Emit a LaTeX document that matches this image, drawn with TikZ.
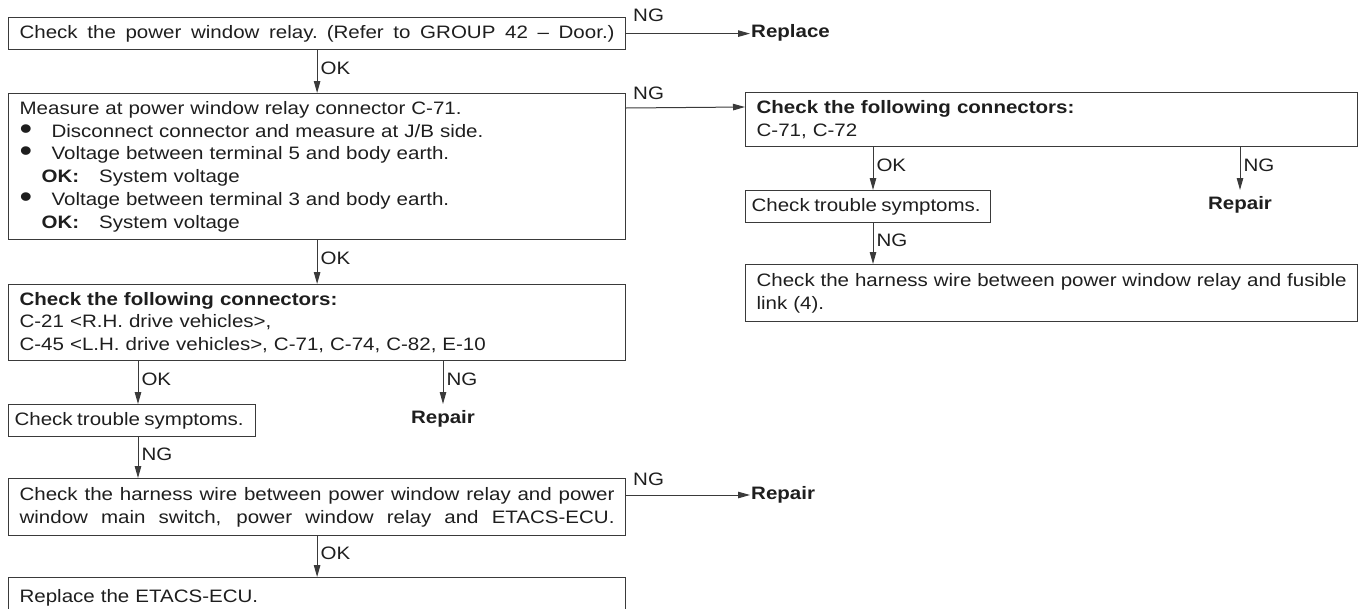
\documentclass[tikz,border=0pt]{standalone}
\usepackage{fontspec}
\setmainfont{Liberation Sans}[FakeStretch=1.14]
\usetikzlibrary{arrows.meta}
\definecolor{ln}{HTML}{3A3A3A}
\definecolor{tx}{HTML}{1E1E1E}
\DeclareRobustCommand{\bodyfont}{\fontsize{18pt}{22.8pt}\selectfont\spaceskip=8.5pt plus 3pt minus 1pt\relax}
\DeclareRobustCommand{\resfont}{\fontsize{18pt}{22.8pt}\selectfont\bfseries}
\DeclareRobustCommand{\tightsp}{\spaceskip=4.5pt\relax}
\DeclareRobustCommand{\bulitem}{\makebox[32pt][l]{\smash{\raisebox{-2pt}{\scalebox{1.75}{\textbullet}}}}}
\DeclareRobustCommand{\jline}[2]{{\spaceskip=0pt\relax\makebox[#1][s]{#2}}}
\begin{document}
\begin{tikzpicture}[x=1pt,y=-1pt,
  every node/.style={font=\bodyfont, text=tx},
  stepbox/.style={draw=ln, line width=1.2pt, anchor=north west, inner xsep=11pt, inner ysep=0pt, align=left},
  arr/.style={draw=ln, line width=1pt, -{Triangle[length=12pt,width=6.5pt]}},
  lbl/.style={inner sep=0pt},
  res/.style={font=\resfont}
]
\useasboundingbox (0,0) rectangle (1365,608);

% left column
\node[stepbox, minimum width=617pt, minimum height=32pt, text width=595pt] (b1) at (8,17)
  {\jline{595pt}{Check the power window relay. (Refer to GROUP 42 – Door.)}};
\node[stepbox, minimum width=617pt, minimum height=146pt, text width=595pt] (b2) at (8,93)
  {Measure at power window relay connector C-71.\\
   \bulitem Disconnect connector and measure at J/B side.\\
   \bulitem Voltage between terminal 5 and body earth.\\
   \hspace*{22pt}\textbf{OK:}\hspace{20pt}System voltage\\
   \bulitem Voltage between terminal 3 and body earth.\\
   \hspace*{22pt}\textbf{OK:}\hspace{20pt}System voltage};
\node[stepbox, minimum width=617pt, minimum height=76pt, text width=595pt] (b3) at (8,284)
  {\textbf{Check the following connectors:}\\
   C-21 <R.H. drive vehicles>,\\
   C-45 <L.H. drive vehicles>, C-71, C-74, C-82, E-10};
\node[stepbox, inner xsep=6pt, minimum width=247pt, minimum height=32pt, text width=235pt] (b4) at (8,404)
  {\tightsp Check trouble symptoms.};
\node[stepbox, minimum width=617pt, minimum height=57pt, text width=595pt] (b5) at (8,478)
  {\jline{595pt}{Check the harness wire between power window relay and power}\\
   \jline{595pt}{window main switch, power window relay and ETACS-ECU.}};
\node[stepbox, minimum width=617pt, minimum height=40pt, text width=595pt] (b6) at (8,577)
  {Replace the ETACS-ECU.};

% right column
\node[stepbox, minimum width=612pt, minimum height=54pt, text width=590pt] (r1) at (745,92)
  {\textbf{Check the following connectors:}\\
   C-71, C-72};
\node[stepbox, inner xsep=6pt, minimum width=245pt, minimum height=32pt, text width=233pt] (r2) at (745,190)
  {\tightsp Check trouble symptoms.};
\node[stepbox, minimum width=612pt, minimum height=57pt, text width=590pt] (r3) at (745,264)
  {\jline{590pt}{Check the harness wire between power window relay and fusible}\\
   link (4).};

% result texts
\node[res, anchor=west, inner sep=1pt] (rep1) at (750,33) {Replace};
\node[res, anchor=west, inner sep=1pt] (rep3) at (750,495) {Repair};
\node[res, anchor=north, inner xsep=1pt, inner ysep=6pt] (rp1) at (443,404) {Repair};
\node[res, anchor=north, inner xsep=1pt, inner ysep=6pt] (rp2) at (1240,190) {Repair};

% horizontal NG connectors
\draw[arr] (b1.east) -- (b1.east -| rep1.west);
\node[lbl, anchor=base west] (ng1) at (633,21) {NG};
\draw[arr] ([yshift=-15pt]b2.north east) -- ([yshift=-15pt]r1.north east -| r1.west);
\node[lbl, anchor=base west] (ng2) at (633,99) {NG};
\draw[arr] (rep3.west -| b5.east) -- (rep3.west);
\node[lbl, anchor=base west] (ng3) at (633,485) {NG};

% vertical connectors, left
\draw[arr] (b1.south) -- node[lbl, right=3pt, pos=0.42] {OK} (b2.north);
\draw[arr] (b2.south) -- node[lbl, right=3pt, pos=0.42] {OK} (b3.north);
\draw[arr] (b3.south -| 138,0) -- node[lbl, right=3pt, pos=0.42] {OK} (b4.north -| 138,0);
\draw[arr] (b3.south -| rp1.north) -- node[lbl, right=3pt, pos=0.42] {NG} (rp1.north);
\draw[arr] (b4.south -| 138,0) -- node[lbl, right=3pt, pos=0.42] {NG} (b5.north -| 138,0);
\draw[arr] (b5.south) -- node[lbl, right=3pt, pos=0.42] {OK} (b6.north);

% vertical connectors, right
\draw[arr] (r1.south -| 873,0) -- node[lbl, right=3pt, pos=0.42] {OK} (r2.north -| 873,0);
\draw[arr] (r1.south -| rp2.north) -- node[lbl, right=3pt, pos=0.42] {NG} (rp2.north);
\draw[arr] (r2.south -| 873,0) -- node[lbl, right=3pt, pos=0.42] {NG} (r3.north -| 873,0);
\end{tikzpicture}
\end{document}
